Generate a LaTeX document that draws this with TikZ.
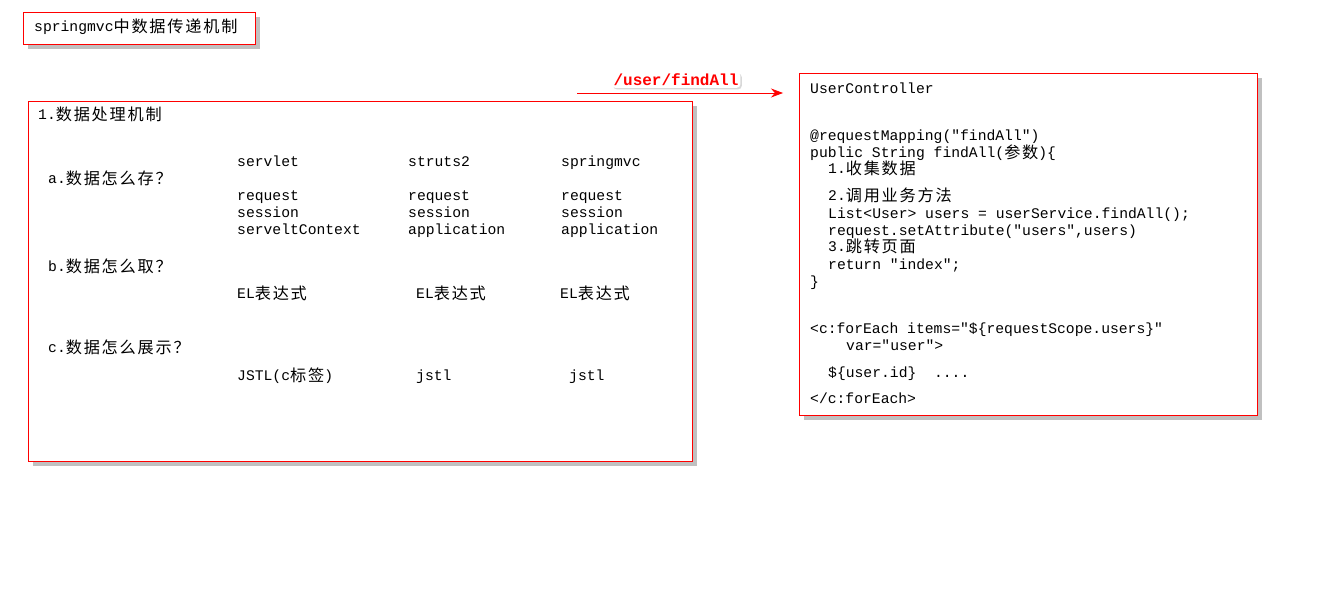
\documentclass[tikz,border=0pt]{standalone}
\usepackage{fontspec}
\setmonofont{Liberation Mono}
\newfontfamily\cjkf[Scale=1.1,LetterSpace=11]{Noto Sans CJK SC}
\newcommand\zh[1]{\raisebox{-1.2pt}{\cjkf #1}}
\usetikzlibrary{shadows,arrows.meta}
\begin{document}
\begin{tikzpicture}[x=1pt,y=-1pt,
  box/.style={draw=red,line width=1.1pt,fill=white,anchor=north west,inner sep=0,
    drop shadow={shadow xshift=4pt,shadow yshift=-4pt,fill=black!35,opacity=0.7}},
  txt/.style={anchor=west,inner sep=0,text height=10pt,text depth=3pt,
    font=\ttfamily\fontsize{14.7}{17}\selectfont},
  lbl/.style={fill=white,rounded corners=4pt,inner sep=2pt,text=red,
    font=\ttfamily\bfseries\fontsize{16}{18}\selectfont,
    drop shadow={shadow xshift=1.5pt,shadow yshift=-1.5pt,fill=black!25,opacity=0.6}},
  link/.style={draw=red,line width=0.8pt,-{Stealth[length=12pt,width=9pt]}}]
\useasboundingbox[fill=white] (0,0) rectangle (1328,596);

% title box
\node[box,minimum width=232pt,minimum height=32pt] (titlebox) at (23,12) {};
\node[txt] (title) at (34,28) {springmvc\zh{中数据传递机制}};

% left box
\node[box,minimum width=664pt,minimum height=360pt] (left) at (28,101) {};
\node[txt] (l1) at (38,116) {1.\zh{数据处理机制}};
\node[txt] (h1) at (237,163) {servlet};
\node[txt] (h2) at (408,163) {struts2};
\node[txt] (h3) at (561,163) {springmvc};
\node[txt] (qa) at (48,180) {a.\zh{数据怎么存？}};
\node[txt] (a11) at (237,197) {request};
\node[txt] (a12) at (237,214) {session};
\node[txt] (a13) at (237,231) {serveltContext};
\node[txt] (a21) at (408,197) {request};
\node[txt] (a22) at (408,214) {session};
\node[txt] (a23) at (408,231) {application};
\node[txt] (a31) at (561,197) {request};
\node[txt] (a32) at (561,214) {session};
\node[txt] (a33) at (561,231) {application};
\node[txt] (qb) at (48,268) {b.\zh{数据怎么取？}};
\node[txt] (b1) at (237,295) {EL\zh{表达式}};
\node[txt] (b2) at (416,295) {EL\zh{表达式}};
\node[txt] (b3) at (560,295) {EL\zh{表达式}};
\node[txt] (qc) at (48,349) {c.\zh{数据怎么展示？}};
\node[txt] (c1) at (237,377) {JSTL(c\zh{标签})};
\node[txt] (c2) at (416,377) {jstl};
\node[txt] (c3) at (569,377) {jstl};

% right box
\node[box,minimum width=458pt,minimum height=342pt] (right) at (799,73) {};
\node[txt] (r1) at (810,90) {UserController};
\node[txt] (r2) at (810,137) {@requestMapping("findAll")};
\node[txt] (r3) at (810,154) {public String findAll(\zh{参数})\{};
\node[txt] (r4) at (828,170) {1.\zh{收集数据}};
\node[txt] (r5) at (828,197) {2.\zh{调用业务方法}};
\node[txt] (r6) at (828,215) {List<User> users = userService.findAll();};
\node[txt] (r7) at (828,232) {request.setAttribute("users",users)};
\node[txt] (r8) at (828,248) {3.\zh{跳转页面}};
\node[txt] (r9) at (828,266) {return "index";};
\node[txt] (r10) at (810,283) {\}};
\node[txt] (r11) at (810,330) {<c:forEach items="\$\{requestScope.users\}"};
\node[txt] (r12) at (846,347) {var="user">};
\node[txt] (r13) at (828,374) {\$\{user.id\}\ \ ....};
\node[txt] (r14) at (810,400) {</c:forEach>};

% arrow
\coordinate (as) at (577,93);
\coordinate (ae) at (783,93);
\draw[link] (as) -- (ae);
\node[lbl] (url) at (676,80) {/user/findAll};
\end{tikzpicture}
\end{document}
